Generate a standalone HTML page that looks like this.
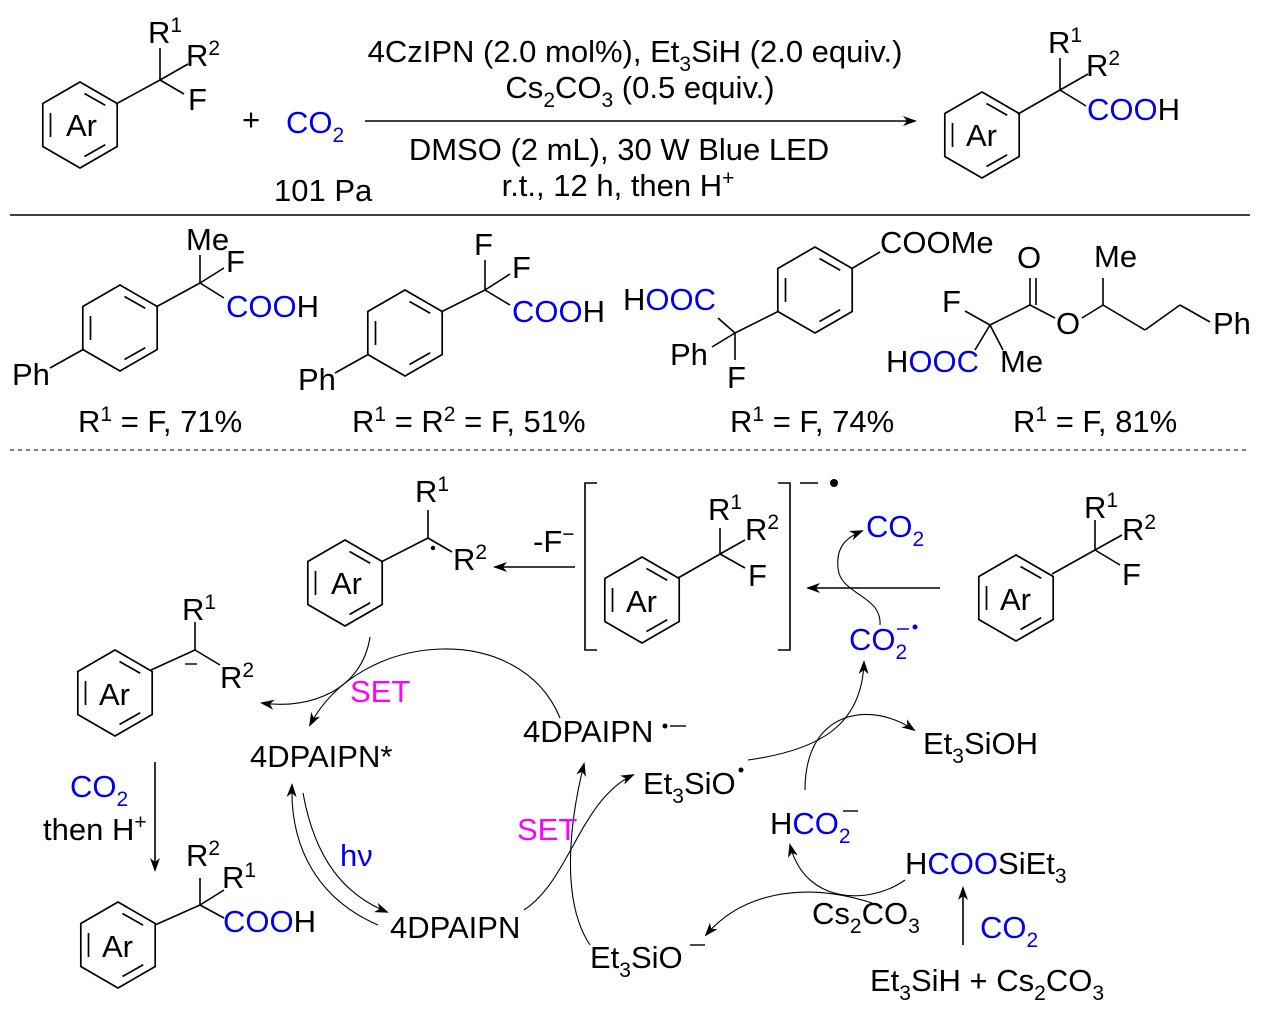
<!DOCTYPE html>
<html><head><meta charset="utf-8"><style>
html,body{margin:0;padding:0;background:#fff}
svg{display:block}
text{font-family:"Liberation Sans",Arial,sans-serif;font-size:31px;fill:#000}
.b{fill:#0000ee}.m{fill:#ff00ff}
.s{font-size:21px}
</style></head><body>
<svg width="1261" height="1009" viewBox="0 0 1261 1009" xmlns="http://www.w3.org/2000/svg">
<defs>
<g id="ring" fill="none" stroke="#000" stroke-width="1.7">
<polygon points="0,-43 37.2,-21.5 37.2,21.5 0,43 -37.2,21.5 -37.2,-21.5"/>
<line x1="-29.5" y1="-12" x2="-29.5" y2="12"/>
<line x1="4.5" y1="-31.5" x2="25.2" y2="-19.7"/>
<line x1="25.2" y1="19.7" x2="4.5" y2="31.5"/>
</g>
<marker id="ah" markerWidth="14" markerHeight="10" refX="12" refY="5" orient="auto" markerUnits="userSpaceOnUse">
<path d="M0,0 L14,5 L0,10 L4,5 Z" fill="#000"/>
</marker>
</defs>

<g stroke="#000" stroke-width="1.6" fill="none">
<line x1="116" y1="104" x2="160" y2="80"/><line x1="160" y1="80" x2="160" y2="48"/><line x1="160" y1="80" x2="188" y2="64"/><line x1="160" y1="80" x2="184" y2="94"/>
<line x1="365" y1="121" x2="915" y2="121" marker-end="url(#ah)"/>
<line x1="1018" y1="114" x2="1060" y2="90"/><line x1="1060" y1="90" x2="1060" y2="58"/><line x1="1060" y1="90" x2="1088" y2="74"/><line x1="1060" y1="90" x2="1086" y2="106"/>
<line x1="10" y1="215" x2="1250" y2="215"/>
<line x1="10" y1="450" x2="1250" y2="450" stroke-dasharray="4,4" stroke-width="1"/>
<line x1="84" y1="349" x2="50" y2="368"/><line x1="156" y1="307" x2="200" y2="283"/><line x1="200" y1="283" x2="200" y2="255"/><line x1="200" y1="283" x2="224" y2="268"/><line x1="200" y1="283" x2="224" y2="298"/>
<line x1="369" y1="354" x2="335" y2="373"/><line x1="441" y1="312" x2="485" y2="290"/><line x1="485" y1="290" x2="485" y2="260"/><line x1="485" y1="290" x2="510" y2="274"/><line x1="485" y1="290" x2="510" y2="305"/>
<line x1="851" y1="269" x2="880" y2="252"/><line x1="779" y1="311" x2="735" y2="333"/><line x1="735" y1="333" x2="718" y2="318"/><line x1="735" y1="333" x2="712" y2="347"/><line x1="735" y1="333" x2="735" y2="360"/>
<line x1="965" y1="311" x2="990" y2="325"/><line x1="990" y1="325" x2="1030" y2="305"/><line x1="1030" y1="305" x2="1030" y2="278"/><line x1="1036" y1="305" x2="1036" y2="278"/><line x1="1030" y1="305" x2="1055" y2="318"/><line x1="1082" y1="318" x2="1103" y2="305"/><line x1="1103" y1="305" x2="1103" y2="278"/><line x1="1103" y1="305" x2="1145" y2="330"/><line x1="1145" y1="330" x2="1180" y2="305"/><line x1="1180" y1="305" x2="1210" y2="322"/><line x1="990" y1="325" x2="975" y2="350"/><line x1="990" y1="325" x2="1003" y2="350"/>
<line x1="381" y1="562" x2="428" y2="538"/><line x1="428" y1="538" x2="428" y2="510"/><line x1="428" y1="538" x2="452" y2="552"/>
<line x1="575" y1="567" x2="495" y2="567" marker-end="url(#ah)"/>
<polyline points="597,483 585,483 585,650 597,650"/><polyline points="778,483 790,483 790,650 778,650"/>
<line x1="800" y1="483" x2="818" y2="483"/>
<line x1="678" y1="578" x2="720" y2="554"/><line x1="720" y1="554" x2="720" y2="528"/><line x1="720" y1="554" x2="745" y2="540"/><line x1="720" y1="554" x2="745" y2="568"/>
<line x1="940" y1="588" x2="808" y2="588" marker-end="url(#ah)"/>
<line x1="1052" y1="574" x2="1095" y2="550"/><line x1="1095" y1="550" x2="1095" y2="520"/><line x1="1095" y1="550" x2="1122" y2="535"/><line x1="1095" y1="550" x2="1120" y2="565"/>
<line x1="151" y1="670" x2="195" y2="650"/><line x1="195" y1="650" x2="195" y2="622"/><line x1="195" y1="650" x2="220" y2="665"/>
<line x1="155" y1="762" x2="155" y2="870" marker-end="url(#ah)"/>
<line x1="155" y1="925" x2="200" y2="905"/><line x1="200" y1="905" x2="200" y2="878"/><line x1="200" y1="905" x2="224" y2="890"/><line x1="200" y1="905" x2="224" y2="918"/>
<line x1="963" y1="945" x2="963" y2="888" marker-end="url(#ah)"/>
<g stroke-width="1.1">
<path d="M370,637 C362,690 310,710 262,703" marker-end="url(#ah)"/>
<path d="M560,718 C520,620 360,630 310,725" marker-end="url(#ah)"/>
<path d="M303,793 C315,860 345,895 387,912" marker-end="url(#ah)"/>
<path d="M378,925 C320,900 290,850 292,785" marker-end="url(#ah)"/>
<path d="M524,910 C570,880 580,800 633,775" marker-end="url(#ah)"/>
<path d="M590,945 C560,900 570,820 584,764" marker-end="url(#ah)"/>
<path d="M748,760 C820,750 862,725 864,662" marker-end="url(#ah)"/>
<path d="M805,790 C805,710 870,700 914,730" marker-end="url(#ah)"/>
<path d="M880,625 C882,595 840,595 838,568 C836,548 845,538 862,531" marker-end="url(#ah)"/>
<path d="M905,880 C870,905 805,905 790,845" marker-end="url(#ah)"/>
<path d="M872,903 C800,880 740,895 706,935" marker-end="url(#ah)"/>
</g>
</g>

<use href="#ring" x="80" y="125"/>
<use href="#ring" x="982" y="135"/>
<use href="#ring" transform="translate(120,328)"/>
<use href="#ring" transform="translate(405,333)"/>
<use href="#ring" transform="translate(815,290)"/>
<use href="#ring" x="345" y="583"/>
<use href="#ring" x="642" y="600"/>
<use href="#ring" x="1016" y="598"/>
<use href="#ring" x="115" y="693"/>
<use href="#ring" x="118" y="945"/>

<text x="66" y="136">Ar</text>
<text x="148" y="43">R<tspan class="s" dy="-11">1</tspan></text>
<text x="186" y="66">R<tspan class="s" dy="-11">2</tspan></text>
<text x="188" y="110">F</text>
<text x="242" y="130">+</text>
<text x="286" y="133" class="b">CO<tspan class="s" dy="9">2</tspan></text>
<text x="274" y="201">101 Pa</text>
<text x="635" y="62" text-anchor="middle">4CzIPN (2.0 mol%), Et<tspan class="s" dy="9">3</tspan><tspan dy="-9">SiH (2.0 equiv.)</tspan></text>
<text x="640" y="98" text-anchor="middle">Cs<tspan class="s" dy="9">2</tspan><tspan dy="-9">CO</tspan><tspan class="s" dy="9">3</tspan><tspan dy="-9"> (0.5 equiv.)</tspan></text>
<text x="619" y="160" text-anchor="middle">DMSO (2 mL), 30 W Blue LED</text>
<text x="618" y="196" text-anchor="middle">r.t., 12 h, then H<tspan class="s" dy="-11">+</tspan></text>
<text x="966" y="146">Ar</text>
<text x="1048" y="53">R<tspan class="s" dy="-11">1</tspan></text>
<text x="1086" y="76">R<tspan class="s" dy="-11">2</tspan></text>
<text x="1087" y="120"><tspan class="b">COO</tspan>H</text>

<text x="12" y="385">Ph</text>
<text x="186" y="250">Me</text>
<text x="226" y="272">F</text>
<text x="226" y="317"><tspan class="b">COO</tspan>H</text>
<text x="78" y="432">R<tspan class="s" dy="-11">1</tspan><tspan dy="11"> = F, 71%</tspan></text>
<text x="298" y="390">Ph</text>
<text x="474" y="255">F</text>
<text x="512" y="278">F</text>
<text x="512" y="322"><tspan class="b">COO</tspan>H</text>
<text x="352" y="432">R<tspan class="s" dy="-11">1</tspan><tspan dy="11"> = R</tspan><tspan class="s" dy="-11">2</tspan><tspan dy="11"> =  F, 51%</tspan></text>
<text x="880" y="253">COOMe</text>
<text x="623" y="310">H<tspan class="b">OOC</tspan></text>
<text x="670" y="365">Ph</text>
<text x="727" y="388">F</text>
<text x="730" y="432">R<tspan class="s" dy="-11">1</tspan><tspan dy="11"> =  F, 74%</tspan></text>
<text x="942" y="312">F</text>
<text x="1017" y="268">O</text>
<text x="1056" y="334">O</text>
<text x="1094" y="267">Me</text>
<text x="1213" y="334">Ph</text>
<text x="886" y="372">H<tspan class="b">OOC</tspan></text>
<text x="1000" y="372">Me</text>
<text x="1013" y="432">R<tspan class="s" dy="-11">1</tspan><tspan dy="11"> =  F, 81%</tspan></text>

<text x="331" y="594">Ar</text>
<text x="415" y="502">R<tspan class="s" dy="-11">1</tspan></text>
<circle cx="433" cy="548" r="2.2"/>
<text x="453" y="570">R<tspan class="s" dy="-11">2</tspan></text>
<text x="533" y="552">-F<tspan class="s" dy="-11">−</tspan></text>
<text x="626" y="612">Ar</text>
<text x="708" y="520">R<tspan class="s" dy="-11">1</tspan></text>
<text x="745" y="540">R<tspan class="s" dy="-11">2</tspan></text>
<text x="748" y="586">F</text>
<circle cx="834" cy="483" r="4"/>
<text x="866" y="537" class="b">CO<tspan class="s" dy="9">2</tspan></text>
<text x="849" y="650" class="b">CO<tspan class="s" dy="9">2</tspan></text>
<line x1="897" y1="629" x2="909" y2="629" stroke="#0000ee" stroke-width="1.5"/>
<circle cx="915" cy="627" r="2.5" fill="#0000ee"/>
<text x="1000" y="610">Ar</text>
<text x="1084" y="518">R<tspan class="s" dy="-11">1</tspan></text>
<text x="1122" y="540">R<tspan class="s" dy="-11">2</tspan></text>
<text x="1122" y="585">F</text>

<text x="99" y="705">Ar</text>
<text x="182" y="620">R<tspan class="s" dy="-11">1</tspan></text>
<line x1="185" y1="664" x2="197" y2="664" stroke="#000" stroke-width="1.4"/>
<text x="220" y="688">R<tspan class="s" dy="-11">2</tspan></text>
<text x="350" y="702" class="m">SET</text>
<text x="250" y="767">4DPAIPN*</text>
<text x="523" y="742">4DPAIPN</text>
<circle cx="665" cy="726" r="2.5"/>
<line x1="670" y1="726" x2="686" y2="726" stroke="#000" stroke-width="1.4"/>
<text x="70" y="797" class="b">CO<tspan class="s" dy="9">2</tspan></text>
<text x="43" y="840">then H<tspan class="s" dy="-11">+</tspan></text>
<text x="340" y="866" class="b">hν</text>
<text x="390" y="938">4DPAIPN</text>
<text x="517" y="840" class="m">SET</text>
<text x="643" y="794">Et<tspan class="s" dy="9">3</tspan><tspan dy="-9">SiO</tspan></text>
<circle cx="741" cy="770" r="2.5"/>
<text x="923" y="754">Et<tspan class="s" dy="9">3</tspan><tspan dy="-9">SiOH</tspan></text>
<text x="770" y="834">H<tspan class="b">CO<tspan class="s" dy="9">2</tspan></tspan></text>
<line x1="843" y1="811" x2="858" y2="811" stroke="#000" stroke-width="1.4"/>
<text x="905" y="874">H<tspan class="b">COO</tspan>SiEt<tspan class="s" dy="9">3</tspan></text>
<text x="812" y="924">Cs<tspan class="s" dy="9">2</tspan><tspan dy="-9">CO</tspan><tspan class="s" dy="9">3</tspan></text>
<text x="980" y="938" class="b">CO<tspan class="s" dy="9">2</tspan></text>
<text x="870" y="991">Et<tspan class="s" dy="9">3</tspan><tspan dy="-9">SiH + Cs</tspan><tspan class="s" dy="9">2</tspan><tspan dy="-9">CO</tspan><tspan class="s" dy="9">3</tspan></text>
<text x="590" y="968">Et<tspan class="s" dy="9">3</tspan><tspan dy="-9">SiO</tspan></text>
<line x1="690" y1="945" x2="705" y2="945" stroke="#000" stroke-width="1.4"/>
<text x="102" y="957">Ar</text>
<text x="186" y="866">R<tspan class="s" dy="-11">2</tspan></text>
<text x="222" y="888">R<tspan class="s" dy="-11">1</tspan></text>
<text x="223" y="932"><tspan class="b">COO</tspan>H</text>
</svg>
</body></html>
